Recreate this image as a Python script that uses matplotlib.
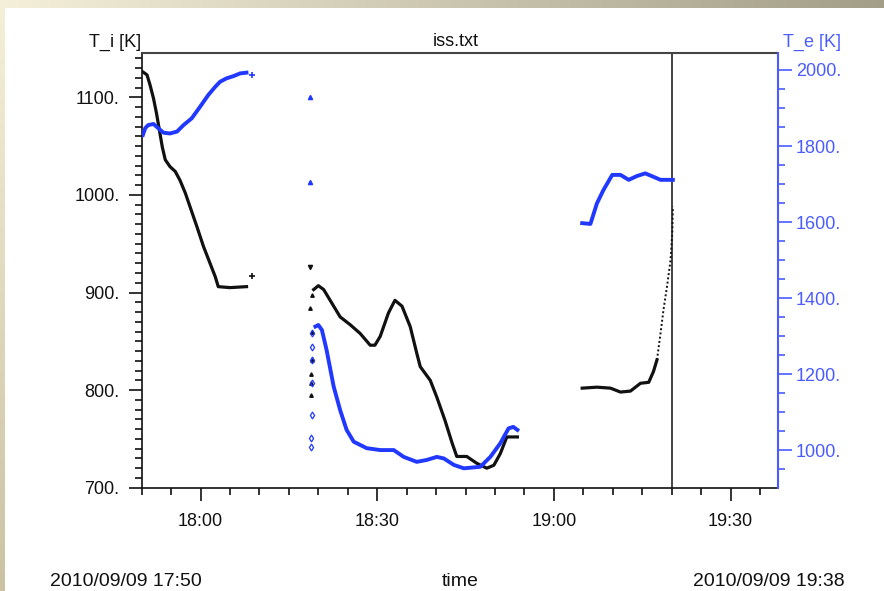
import numpy as np
import matplotlib
matplotlib.use("Agg")
import matplotlib.pyplot as plt
from matplotlib.ticker import FixedLocator, MultipleLocator

plt.rcParams['font.family'] = ['Liberation Sans', 'DejaVu Sans']

# time in minutes after 17:00
ti1_t = [50.2, 50.9, 51.4, 52.0, 52.5, 53.1, 53.5, 54.0, 54.8, 55.7, 56.5, 57.4, 58.2, 59.4,
         60.5, 61.6, 62.5, 63.0, 65.0, 67.8]
ti1_v = [1126, 1123, 1113, 1099, 1084, 1063, 1049, 1036, 1029, 1024, 1015, 1002, 988, 967,
         947, 930, 916, 906, 905, 906]
te1_t = [50.2, 50.6, 51.1, 52.0, 52.8, 53.7, 54.8, 56.0, 57.1, 58.5, 59.9, 61.3, 62.5, 63.3,
         64.4, 65.6, 66.7, 67.8]
te1_v = [1829, 1847, 1855, 1858, 1847, 1835, 1833, 1838, 1855, 1873, 1903, 1934, 1956, 1969,
         1978, 1984, 1991, 1993]

ti_plus_t, ti_plus_v = [68.8], [917]
te_plus_t, te_plus_v = [68.8], [1987]
ti_tri_t, ti_tri_v = [78.5], [926]
te_tri_t, te_tri_v = [78.5, 78.5], [1930, 1706]

ti_sc_t = [79.0, 78.6, 79.0, 78.9, 78.8, 78.7, 78.8]
ti_sc_v = [897, 884, 860, 831, 817, 807, 795]
te_sc_t = [78.9, 79.0, 79.0, 78.9, 78.9, 78.8, 78.7]
te_sc_v = [1307, 1272, 1237, 1176, 1092, 1031, 1009]

ti2_t = [79.2, 80.0, 80.9, 82.0, 83.7, 85.4, 87.1, 88.8, 89.6, 90.5, 91.9, 93.0, 94.2, 95.6,
         96.7, 97.3, 99.0, 100.1, 101.5, 102.7, 103.5, 105.2, 106.9, 108.6, 109.8, 110.9,
         112.0, 113.1, 113.8]
ti2_v = [903, 907, 903, 892, 875, 867, 858, 846, 846, 855, 879, 892, 886, 865,
         838, 824, 810, 793, 769, 746, 732, 732, 725, 720, 723, 735,
         752, 752, 752]
te2_t = [79.5, 80.0, 80.6, 81.4, 82.6, 83.7, 84.8, 86.0, 88.2, 90.5, 92.8, 94.5, 96.7, 98.4,
         100.1, 101.3, 103.0, 104.7, 107.5, 109.2, 110.9, 112.3, 113.1, 113.8]
te2_v = [1325, 1329, 1316, 1263, 1167, 1105, 1053, 1022, 1005, 1000, 1000, 982, 969, 974,
         982, 978, 961, 952, 956, 982, 1018, 1057, 1061, 1053]

te3_t = [124.8, 126.2, 127.3, 128.4, 129.9, 131.3, 132.7, 134.1, 135.5, 136.9, 138.1, 140.2]
te3_v = [1597, 1595, 1649, 1684, 1724, 1724, 1711, 1721, 1728, 1719, 1711, 1711]
ti3_t = [124.8, 127.3, 129.6, 131.3, 133.0, 134.7, 136.1, 136.9, 137.5]
ti3_v = [802, 803, 802, 798, 799, 807, 808, 819, 831]
ti3r_t = [137.5, 138.1, 138.6, 139.2, 139.8, 140.1, 140.2]
ti3r_v = [831, 858, 882, 906, 933, 961, 988]

x_ticks = [60, 90, 120, 150]
x_labels = ['18:00', '18:30', '19:00', '19:30']
ti_ticks = [700, 800, 900, 1000, 1100]
te_ticks = [1000, 1200, 1400, 1600, 1800, 2000]
marker_time = 140  # 19:20

W, H = 884, 591
BLACK = '#111111'
BLUE = '#2038ff'
AXBLUE = '#4a5cff'

fig = plt.figure(figsize=(W / 100, H / 100), dpi=100)

# slide border (cream/khaki gradient strips on top and left)
bg = np.ones((H, W, 3))
top = np.linspace(0, 1, W)[:, None]
c0 = np.array([0.96, 0.94, 0.85])
c1 = np.array([0.64, 0.62, 0.53])
bg[:8, :, :] = (c0 * (1 - top) + c1 * top)[None, :, :]
side = np.linspace(0, 1, H)[:, None]
bg[:, :5, :] = (c0 * (1 - side) + np.array([0.80, 0.76, 0.64]) * side)[:, None, :]
ax_bg = fig.add_axes([0, 0, 1, 1], zorder=-10)
ax_bg.imshow(bg, aspect='auto')
ax_bg.axis('off')


def fx(px):
    return px / W


def fy(py):
    return 1 - py / H


ax = fig.add_axes([fx(141.7), fy(487.7), fx(777.7) - fx(141.7), fy(52.7) - fy(487.7)])
ax.set_facecolor('white')
ax2 = ax.twinx()

ax.plot(ti1_t, ti1_v, color=BLACK, lw=2.3)
ax.plot(ti2_t, ti2_v, color=BLACK, lw=2.3)
ax.plot(ti3_t, ti3_v, color=BLACK, lw=2.3)
ax.plot(ti3r_t, ti3r_v, color=BLACK, lw=1.4, ls=(0, (1, 1.2)))
ax.plot(ti_plus_t, ti_plus_v, '+', color=BLACK, ms=5, mew=1.2)
ax.plot(ti_tri_t, ti_tri_v, 'v', color=BLACK, ms=3)
ax.plot(ti_sc_t, ti_sc_v, '^', color=BLACK, ms=2.5, ls='none')
ax.axvline(marker_time, color=BLACK, lw=1.1)

ax2.plot(te1_t, te1_v, color=BLUE, lw=2.8)
ax2.plot(te2_t, te2_v, color=BLUE, lw=2.8)
ax2.plot(te3_t, te3_v, color=BLUE, lw=2.8)
ax2.plot(te_plus_t, te_plus_v, '+', color=BLUE, ms=5, mew=1.2)
ax2.plot(te_tri_t, te_tri_v, '^', color=BLUE, ms=3)
ax2.plot(te_sc_t, te_sc_v, 'd', color=BLUE, mfc='none', ms=3.5, mew=0.9, ls='none')

ax.set_xlim(50, 158)
ax.set_ylim(700, 1145.7)
ax2.set_ylim(901, 2045.5)

ax.xaxis.set_major_locator(FixedLocator(x_ticks))
ax.set_xticklabels(x_labels)
ax.xaxis.set_minor_locator(MultipleLocator(5))
ax.yaxis.set_major_locator(FixedLocator(ti_ticks))
ax.set_yticklabels([f'{v}.' for v in ti_ticks])
ax.yaxis.set_minor_locator(MultipleLocator(10))
ax2.yaxis.set_major_locator(FixedLocator(te_ticks))
ax2.set_yticklabels([f'{v}.' for v in te_ticks])
ax2.yaxis.set_minor_locator(MultipleLocator(50))

ax.tick_params(axis='x', which='major', length=9, width=1.2, color=BLACK, labelsize=13,
               pad=9, labelcolor=BLACK)
ax.tick_params(axis='x', which='minor', length=5.3, width=1.2, color=BLACK)
ax.tick_params(axis='y', which='major', length=9.5, width=1.2, color=BLACK, labelsize=13,
               pad=6.5, labelcolor=BLACK)
ax.tick_params(axis='y', which='minor', length=4.8, width=1.2, color=BLACK)
ax2.tick_params(axis='y', which='major', length=10, width=1.2, color=AXBLUE, labelsize=13,
                pad=3, labelcolor=AXBLUE)
ax2.tick_params(axis='y', which='minor', length=5, width=1.2, color=AXBLUE)

for s in ['left', 'bottom']:
    ax.spines[s].set_color(BLACK)
    ax.spines[s].set_linewidth(1.2)
ax.spines['top'].set_color('#444444')
ax.spines['top'].set_linewidth(1.5)
ax.spines['right'].set_visible(False)
ax2.spines['right'].set_color(AXBLUE)
ax2.spines['right'].set_linewidth(1.5)
for s in ['left', 'top', 'bottom']:
    ax2.spines[s].set_visible(False)

fig.text(fx(141), fy(47), 'T_i [K]', ha='right', va='baseline', fontsize=13, color=BLACK)
fig.text(fx(456), fy(46), 'iss.txt', ha='center', va='baseline', fontsize=13, color=BLACK)
fig.text(fx(783), fy(47), 'T_e [K]', ha='left', va='baseline', fontsize=13, color=AXBLUE)
fig.text(fx(126), fy(586), '2010/09/09 17:50', ha='center', va='baseline', fontsize=14,
         color=BLACK)
fig.text(fx(460), fy(586), 'time', ha='center', va='baseline', fontsize=14, color=BLACK)
fig.text(fx(769), fy(586), '2010/09/09 19:38', ha='center', va='baseline', fontsize=14,
         color=BLACK)

fig.savefig('out.png', dpi=100)
